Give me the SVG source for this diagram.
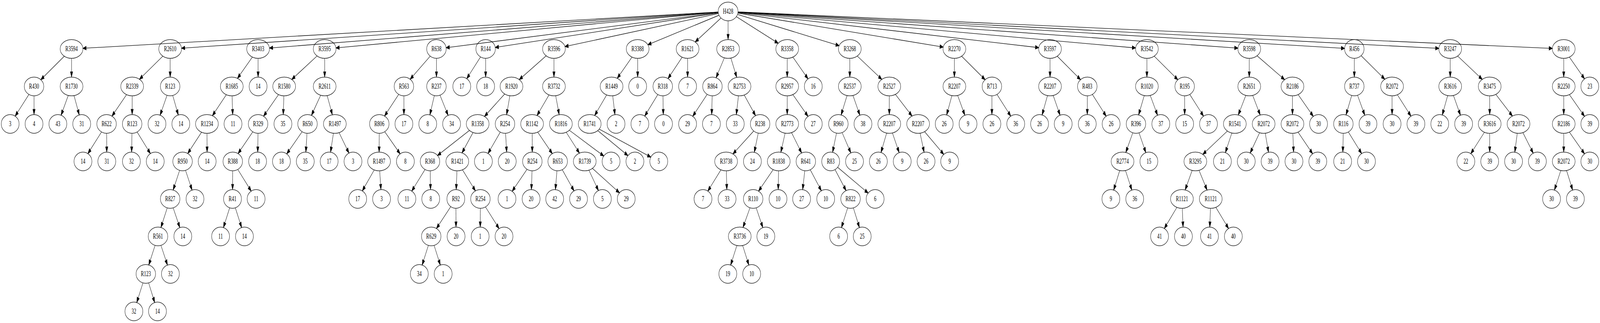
<svg xmlns="http://www.w3.org/2000/svg" width="6441" height="827" viewBox="0 0 6441 827" preserveAspectRatio="none" style="width:100vw;height:100vh;display:block">
<style>
.n ellipse{fill:none;stroke:#000;stroke-width:1.33}
.n text{font-family:"Liberation Serif","Times New Roman",serif;font-size:18.67px;text-anchor:middle;fill:#000}
.e path{fill:none;stroke:#000;stroke-width:1.33;marker-end:url(#ah)}
</style>
<defs>
<marker id="ah" viewBox="0 -6 16 12" refX="0" refY="0" markerWidth="16" markerHeight="12" markerUnits="userSpaceOnUse" orient="auto" overflow="visible">
<path d="M0,-4.67 L13.33,0 L0,4.67 Z" fill="#000" stroke="#000" stroke-width="1.33"/>
</marker>
</defs>
<rect width="6441" height="827" fill="#fff"/>
<g id="edges" class="e">
<path d="M2891.1,30.8 L347.1,123.2"/>
<path d="M2891.1,31.0 L744.0,122.8"/>
<path d="M2891.1,31.4 L1098.0,122.3"/>
<path d="M2891.2,31.7 L1365.9,121.9"/>
<path d="M2891.4,32.6 L1809.2,121.1"/>
<path d="M2891.5,33.2 L2007.0,120.2"/>
<path d="M2892.0,34.7 L2287.6,117.4"/>
<path d="M2894.4,39.0 L2620.9,111.1"/>
<path d="M2902.5,46.1 L2810.0,100.6"/>
<path d="M2931,53.3 L2931,88.0"/>
<path d="M2964.2,42.7 L3120.3,105.7"/>
<path d="M2969.0,36.8 L3365.0,114.4"/>
<path d="M2970.4,33.5 L3783.8,119.2"/>
<path d="M2970.7,32.3 L4168.3,121.0"/>
<path d="M2970.8,31.6 L4558.1,122.0"/>
<path d="M2970.9,31.2 L4970.0,122.6"/>
<path d="M2970.9,30.9 L5399.5,123.3"/>
<path d="M2970.9,30.7 L5778.9,123.4"/>
<path d="M2971.0,30.5 L6235.9,123.6"/>
<path d="M258.9,143.9 L175.5,196.9"/>
<path d="M288,149.3 L288,184.0"/>
<path d="M655.6,143.8 L572.7,195.8"/>
<path d="M685,149.3 L685,184.0"/>
<path d="M1016.1,146.1 L965.8,191.6"/>
<path d="M1039,149.3 L1039,184.0"/>
<path d="M1276.5,143.3 L1186.0,196.6"/>
<path d="M1307,149.3 L1307,184.0"/>
<path d="M1731.9,143.8 L1661.9,195.0"/>
<path d="M1757,149.3 L1757,184.0"/>
<path d="M1934.5,145.8 L1888.4,191.9"/>
<path d="M1955,149.3 L1955,184.0"/>
<path d="M2198.7,142.9 L2101.9,197.3"/>
<path d="M2230,149.3 L2230,184.0"/>
<path d="M2544.2,146.2 L2494.6,191.5"/>
<path d="M2567,149.3 L2567,184.0"/>
<path d="M2746.1,146.4 L2698.7,191.9"/>
<path d="M2768,149.3 L2768,184.0"/>
<path d="M2916.1,148.0 L2889.9,187.9"/>
<path d="M2942.2,148.6 L2960.1,186.0"/>
<path d="M3169,149.3 L3169,184.0"/>
<path d="M3191.8,146.2 L3243.0,192.9"/>
<path d="M3421,149.3 L3421,184.0"/>
<path d="M3451.0,143.5 L3538.5,196.3"/>
<path d="M3842,149.3 L3842,184.0"/>
<path d="M3871.1,143.9 L3954.5,196.9"/>
<path d="M4227,149.3 L4227,184.0"/>
<path d="M4256.0,143.9 L4338.7,196.8"/>
<path d="M4617,149.3 L4617,184.0"/>
<path d="M4646.3,143.8 L4730.4,197.0"/>
<path d="M5029,149.3 L5029,184.0"/>
<path d="M5060.6,142.8 L5159.8,197.5"/>
<path d="M5452,149.3 L5452,184.0"/>
<path d="M5479.4,142.6 L5563.5,195.7"/>
<path d="M5838,149.3 L5838,184.0"/>
<path d="M5868.0,143.5 L5955.6,196.3"/>
<path d="M6295,149.3 L6295,184.0"/>
<path d="M6317.8,146.2 L6369.0,192.9"/>
<path d="M116.5,241.8 L70.4,287.9"/>
<path d="M137,245.3 L137,280.0"/>
<path d="M274.8,244.3 L252.5,283.4"/>
<path d="M298.0,244.8 L313.9,282.0"/>
<path d="M509.5,242.3 L460.3,288.2"/>
<path d="M532,245.3 L532,280.0"/>
<path d="M672.4,244.1 L650.9,283.2"/>
<path d="M695.4,244.5 L712.3,282.2"/>
<path d="M911.1,242.4 L864.6,287.0"/>
<path d="M934.2,245.3 L936.1,280.1"/>
<path d="M1121.2,242.2 L1070.7,288.4"/>
<path d="M1142.8,245.3 L1140.9,280.1"/>
<path d="M1290.9,243.8 L1261.6,284.5"/>
<path d="M1317.0,244.8 L1332.8,281.6"/>
<path d="M1605.1,241.6 L1557.5,287.8"/>
<path d="M1626,245.3 L1626,280.0"/>
<path d="M1748.5,244.7 L1735.1,281.5"/>
<path d="M1771.2,243.7 L1796.8,284.0"/>
<path d="M2031.7,240.6 L1961.2,290.4"/>
<path d="M2052.6,245.1 L2042.9,280.8"/>
<path d="M2210.2,243.0 L2170.8,285.9"/>
<path d="M2236.9,245.1 L2247.4,280.8"/>
<path d="M2442.2,243.0 L2402.8,285.9"/>
<path d="M2466.5,245.2 L2473.1,280.4"/>
<path d="M2648.2,242.0 L2604.6,287.5"/>
<path d="M2668.8,245.3 L2669.8,280.0"/>
<path d="M2846.9,241.6 L2798.2,288.4"/>
<path d="M2867.0,245.3 L2865.6,280.0"/>
<path d="M2972.8,245.2 L2966.5,280.4"/>
<path d="M2995.9,243.2 L3032.9,286.0"/>
<path d="M3169,245.3 L3169,280.0"/>
<path d="M3191.8,242.2 L3243.0,288.9"/>
<path d="M3409.9,244.6 L3391.8,282.3"/>
<path d="M3433.7,244.4 L3455.1,283.2"/>
<path d="M3580,245.3 L3580,280.0"/>
<path d="M3604.5,241.6 L3661.2,288.5"/>
<path d="M3832.0,244.8 L3816.1,282.0"/>
<path d="M3855.2,244.3 L3877.5,283.4"/>
<path d="M3993,245.3 L3993,280.0"/>
<path d="M4013.5,241.8 L4059.6,287.9"/>
<path d="M4216.8,244.7 L4200.4,282.1"/>
<path d="M4239.7,244.4 L4261.1,283.2"/>
<path d="M4377,245.3 L4377,280.0"/>
<path d="M4397.5,241.8 L4443.6,287.9"/>
<path d="M4606.3,244.7 L4589.1,282.1"/>
<path d="M4630.4,244.3 L4653.2,283.5"/>
<path d="M4769,245.3 L4769,280.0"/>
<path d="M4789.5,241.8 L4835.6,287.9"/>
<path d="M5015.2,244.2 L4991.7,283.0"/>
<path d="M5042.8,244.2 L5066.3,283.0"/>
<path d="M5203,245.3 L5203,280.0"/>
<path d="M5225.8,242.2 L5277.0,288.9"/>
<path d="M5441.4,244.4 L5424.1,282.1"/>
<path d="M5465.0,244.0 L5487.5,283.4"/>
<path d="M5604,245.3 L5604,280.0"/>
<path d="M5625.3,242.6 L5670.6,287.9"/>
<path d="M5827.8,244.7 L5811.4,282.1"/>
<path d="M5851.0,244.4 L5872.8,283.3"/>
<path d="M5997,245.3 L5997,280.0"/>
<path d="M6021.5,241.6 L6078.2,288.5"/>
<path d="M6295,245.3 L6295,280.0"/>
<path d="M6317.8,242.2 L6369.0,288.9"/>
<path d="M408.7,337.9 L363.2,383.8"/>
<path d="M429.3,341.3 L429.6,376.0"/>
<path d="M531.3,341.3 L530.2,376.0"/>
<path d="M552.0,338.0 L596.2,383.6"/>
<path d="M811.4,338.5 L765.3,383.6"/>
<path d="M833.3,341.3 L833.6,376.0"/>
<path d="M1017.6,337.5 L968.1,384.1"/>
<path d="M1038.5,341.3 L1037.8,376.0"/>
<path d="M1216.2,337.3 L1164.1,384.9"/>
<path d="M1235.8,341.3 L1232.5,376.1"/>
<path d="M1342.3,341.1 L1333.8,376.7"/>
<path d="M1365.0,339.6 L1396.7,381.3"/>
<path d="M1526.8,341.3 L1526.4,376.0"/>
<path d="M1548.8,337.3 L1601.0,384.9"/>
<path d="M1889.8,333.9 L1773.3,392.2"/>
<path d="M1904.3,339.2 L1868.4,381.3"/>
<path d="M2014.0,338.3 L1973.6,382.9"/>
<path d="M2035.2,341.3 L2038.5,376.1"/>
<path d="M2142.3,341.3 L2142.6,376.0"/>
<path d="M2164.5,338.3 L2213.7,384.2"/>
<path d="M2279.3,338.6 L2323.3,382.6"/>
<path d="M2292.0,333.5 L2418.6,393.7"/>
<path d="M2406.3,334.4 L2516.0,392.2"/>
<path d="M2412.3,330.6 L2607.4,397.9"/>
<path d="M3034.2,335.4 L2961.4,386.5"/>
<path d="M3052.4,340.9 L3040.7,377.2"/>
<path d="M3160.6,340.9 L3147.8,377.2"/>
<path d="M3186.4,339.5 L3218.9,381.2"/>
<path d="M3367.4,340.9 L3355.7,377.2"/>
<path d="M3390.0,339.5 L3417.7,380.4"/>
<path d="M3569.3,340.7 L3552.1,378.3"/>
<path d="M3592.5,340.4 L3613.4,379.0"/>
<path d="M3703.9,341.0 L3716.0,377.3"/>
<path d="M3722.1,337.1 L3788.6,387.3"/>
<path d="M4560.2,340.0 L4538.5,378.7"/>
<path d="M4585.3,340.1 L4606.4,379.0"/>
<path d="M4941.0,335.5 L4853.5,388.3"/>
<path d="M4958.9,340.5 L4939.0,378.8"/>
<path d="M5070.7,339.8 L5040.6,381.0"/>
<path d="M5093.4,341.1 L5103.1,376.9"/>
<path d="M5204.5,341.3 L5206.7,376.0"/>
<path d="M5225.3,338.3 L5274.5,384.6"/>
<path d="M5407.3,341.3 L5406.2,376.0"/>
<path d="M5428.0,338.0 L5472.2,383.6"/>
<path d="M5975.7,338.6 L5930.4,383.9"/>
<path d="M5997,341.3 L5997,376.0"/>
<path d="M6108.0,341.2 L6100.7,376.5"/>
<path d="M6130.6,339.5 L6163.9,381.7"/>
<path d="M6295,341.3 L6295,376.0"/>
<path d="M6317.8,338.2 L6369.0,384.9"/>
<path d="M723.1,436.2 L703.1,474.6"/>
<path d="M746.9,436.2 L767.0,474.8"/>
<path d="M936.8,437.3 L936.4,472.0"/>
<path d="M957.2,433.9 L1002.0,479.7"/>
<path d="M1506.5,435.1 L1467.4,478.8"/>
<path d="M1528.5,437.3 L1532.1,472.1"/>
<path d="M1711.0,434.0 L1666.8,479.6"/>
<path d="M1731.8,437.3 L1732.8,472.0"/>
<path d="M1839.5,437.3 L1837.3,472.0"/>
<path d="M1861.7,434.7 L1904.7,479.1"/>
<path d="M2121.6,433.5 L2071.5,480.6"/>
<path d="M2141.8,437.3 L2139.9,472.1"/>
<path d="M2242.0,437.3 L2237.6,472.2"/>
<path d="M2263.5,434.5 L2302.1,478.6"/>
<path d="M2370.6,435.7 L2401.2,477.1"/>
<path d="M2384.9,431.1 L2482.2,487.0"/>
<path d="M2902.3,434.7 L2858.8,479.6"/>
<path d="M2924.0,437.3 L2925.4,472.0"/>
<path d="M3112.6,434.3 L3063.3,480.2"/>
<path d="M3134.3,437.3 L3133.2,472.0"/>
<path d="M3239.8,437.2 L3233.5,472.4"/>
<path d="M3261.8,434.7 L3298.0,478.1"/>
<path d="M3361.5,434.3 L3397.6,477.7"/>
<path d="M3372.1,428.4 L3483.2,488.0"/>
<path d="M4507.6,436.6 L4489.0,474.6"/>
<path d="M4530.8,436.5 L4550.3,474.7"/>
<path d="M4799.1,436.3 L4777.5,474.7"/>
<path d="M4826.7,436.1 L4852.1,475.4"/>
<path d="M6283.2,436.5 L6263.7,474.7"/>
<path d="M6306.4,436.6 L6325.0,474.6"/>
<path d="M673.3,532.2 L653.8,570.6"/>
<path d="M697.1,532.2 L717.7,570.9"/>
<path d="M924.6,532.1 L905.3,570.7"/>
<path d="M947.4,532.1 L966.7,570.7"/>
<path d="M1814.6,529.1 L1766.5,575.7"/>
<path d="M1835.3,533.3 L1835.6,568.0"/>
<path d="M1933.8,533.3 L1933.4,568.0"/>
<path d="M1954.3,529.9 L1999.8,575.8"/>
<path d="M3019.2,532.0 L2997.5,570.7"/>
<path d="M3044.1,532.2 L3064.7,570.9"/>
<path d="M3412.5,532.3 L3393.3,570.7"/>
<path d="M3435.3,532.3 L3454.0,570.6"/>
<path d="M4737.8,530.9 L4696.2,575.3"/>
<path d="M4759.5,533.3 L4761.7,568.0"/>
<path d="M4872.8,533.3 L4870.9,568.1"/>
<path d="M4894.4,530.8 L4936.6,575.4"/>
<path d="M624.3,628.2 L604.8,666.6"/>
<path d="M647.9,628.2 L668.0,666.8"/>
<path d="M1724.5,628.3 L1705.3,666.7"/>
<path d="M1747.5,628.3 L1766.7,666.7"/>
<path d="M2966.4,628.5 L2947.3,666.7"/>
<path d="M2989.6,628.5 L3008.7,666.7"/>
<path d="M575.5,724.3 L556.3,762.7"/>
<path d="M598.3,724.3 L617.0,762.6"/>
</g>
<g id="n-H428" class="n"><ellipse cx="2931" cy="29.33" rx="40" ry="24"/><text x="2931" y="34.93">H428</text></g>
<g id="n-R3594" class="n"><ellipse cx="288" cy="125.33" rx="45.87" ry="24"/><text x="288" y="130.93">R3594</text></g>
<g id="n-R2610" class="n"><ellipse cx="685" cy="125.33" rx="45.87" ry="24"/><text x="685" y="130.93">R2610</text></g>
<g id="n-R3403" class="n"><ellipse cx="1039" cy="125.33" rx="45.87" ry="24"/><text x="1039" y="130.93">R3403</text></g>
<g id="n-R3595" class="n"><ellipse cx="1307" cy="125.33" rx="45.87" ry="24"/><text x="1307" y="130.93">R3595</text></g>
<g id="n-R638" class="n"><ellipse cx="1757" cy="125.33" rx="39.27" ry="24"/><text x="1757" y="130.93">R638</text></g>
<g id="n-R144" class="n"><ellipse cx="1955" cy="125.33" rx="39.27" ry="24"/><text x="1955" y="130.93">R144</text></g>
<g id="n-R3596" class="n"><ellipse cx="2230" cy="125.33" rx="45.87" ry="24"/><text x="2230" y="130.93">R3596</text></g>
<g id="n-R3388" class="n"><ellipse cx="2567" cy="125.33" rx="45.87" ry="24"/><text x="2567" y="130.93">R3388</text></g>
<g id="n-R1621" class="n"><ellipse cx="2768" cy="125.33" rx="45.87" ry="24"/><text x="2768" y="130.93">R1621</text></g>
<g id="n-R2853" class="n"><ellipse cx="2931" cy="125.33" rx="45.87" ry="24"/><text x="2931" y="130.93">R2853</text></g>
<g id="n-R3358" class="n"><ellipse cx="3169" cy="125.33" rx="45.87" ry="24"/><text x="3169" y="130.93">R3358</text></g>
<g id="n-R3268" class="n"><ellipse cx="3421" cy="125.33" rx="45.87" ry="24"/><text x="3421" y="130.93">R3268</text></g>
<g id="n-R2270" class="n"><ellipse cx="3842" cy="125.33" rx="45.87" ry="24"/><text x="3842" y="130.93">R2270</text></g>
<g id="n-R3597" class="n"><ellipse cx="4227" cy="125.33" rx="45.87" ry="24"/><text x="4227" y="130.93">R3597</text></g>
<g id="n-R3542" class="n"><ellipse cx="4617" cy="125.33" rx="45.87" ry="24"/><text x="4617" y="130.93">R3542</text></g>
<g id="n-R3598" class="n"><ellipse cx="5029" cy="125.33" rx="45.87" ry="24"/><text x="5029" y="130.93">R3598</text></g>
<g id="n-R456" class="n"><ellipse cx="5452" cy="125.33" rx="39.27" ry="24"/><text x="5452" y="130.93">R456</text></g>
<g id="n-R3247" class="n"><ellipse cx="5838" cy="125.33" rx="45.87" ry="24"/><text x="5838" y="130.93">R3247</text></g>
<g id="n-R3001" class="n"><ellipse cx="6295" cy="125.33" rx="45.87" ry="24"/><text x="6295" y="130.93">R3001</text></g>
<g id="n-R430" class="n"><ellipse cx="137" cy="221.33" rx="39.27" ry="24"/><text x="137" y="226.93">R430</text></g>
<g id="n-R1730" class="n"><ellipse cx="288" cy="221.33" rx="45.87" ry="24"/><text x="288" y="226.93">R1730</text></g>
<g id="n-R2339" class="n"><ellipse cx="532" cy="221.33" rx="45.87" ry="24"/><text x="532" y="226.93">R2339</text></g>
<g id="n-R123-a" class="n"><ellipse cx="685" cy="221.33" rx="39.27" ry="24"/><text x="685" y="226.93">R123</text></g>
<g id="n-R1685" class="n"><ellipse cx="933" cy="221.33" rx="45.87" ry="24"/><text x="933" y="226.93">R1685</text></g>
<g id="n-14-a" class="n"><ellipse cx="1039" cy="221.33" rx="36" ry="24"/><text x="1039" y="226.93">14</text></g>
<g id="n-R1580" class="n"><ellipse cx="1144" cy="221.33" rx="45.87" ry="24"/><text x="1144" y="226.93">R1580</text></g>
<g id="n-R2611" class="n"><ellipse cx="1307" cy="221.33" rx="45.87" ry="24"/><text x="1307" y="226.93">R2611</text></g>
<g id="n-R563" class="n"><ellipse cx="1626" cy="221.33" rx="39.27" ry="24"/><text x="1626" y="226.93">R563</text></g>
<g id="n-R237" class="n"><ellipse cx="1757" cy="221.33" rx="39.27" ry="24"/><text x="1757" y="226.93">R237</text></g>
<g id="n-17-a" class="n"><ellipse cx="1859" cy="221.33" rx="36" ry="24"/><text x="1859" y="226.93">17</text></g>
<g id="n-18-a" class="n"><ellipse cx="1955" cy="221.33" rx="36" ry="24"/><text x="1955" y="226.93">18</text></g>
<g id="n-R1920" class="n"><ellipse cx="2059" cy="221.33" rx="45.87" ry="24"/><text x="2059" y="226.93">R1920</text></g>
<g id="n-R3732" class="n"><ellipse cx="2230" cy="221.33" rx="45.87" ry="24"/><text x="2230" y="226.93">R3732</text></g>
<g id="n-R1449" class="n"><ellipse cx="2462" cy="221.33" rx="45.87" ry="24"/><text x="2462" y="226.93">R1449</text></g>
<g id="n-0-a" class="n"><ellipse cx="2567" cy="221.33" rx="36" ry="24"/><text x="2567" y="226.93">0</text></g>
<g id="n-R318" class="n"><ellipse cx="2668" cy="221.33" rx="39.27" ry="24"/><text x="2668" y="226.93">R318</text></g>
<g id="n-7-a" class="n"><ellipse cx="2768" cy="221.33" rx="36" ry="24"/><text x="2768" y="226.93">7</text></g>
<g id="n-R864" class="n"><ellipse cx="2868" cy="221.33" rx="39.27" ry="24"/><text x="2868" y="226.93">R864</text></g>
<g id="n-R2753" class="n"><ellipse cx="2977" cy="221.33" rx="45.87" ry="24"/><text x="2977" y="226.93">R2753</text></g>
<g id="n-R2957" class="n"><ellipse cx="3169" cy="221.33" rx="45.87" ry="24"/><text x="3169" y="226.93">R2957</text></g>
<g id="n-16" class="n"><ellipse cx="3274" cy="221.33" rx="36" ry="24"/><text x="3274" y="226.93">16</text></g>
<g id="n-R2537" class="n"><ellipse cx="3421" cy="221.33" rx="45.87" ry="24"/><text x="3421" y="226.93">R2537</text></g>
<g id="n-R2527" class="n"><ellipse cx="3580" cy="221.33" rx="45.87" ry="24"/><text x="3580" y="226.93">R2527</text></g>
<g id="n-R2207-a" class="n"><ellipse cx="3842" cy="221.33" rx="45.87" ry="24"/><text x="3842" y="226.93">R2207</text></g>
<g id="n-R713" class="n"><ellipse cx="3993" cy="221.33" rx="39.27" ry="24"/><text x="3993" y="226.93">R713</text></g>
<g id="n-R2207-b" class="n"><ellipse cx="4227" cy="221.33" rx="45.87" ry="24"/><text x="4227" y="226.93">R2207</text></g>
<g id="n-R483" class="n"><ellipse cx="4377" cy="221.33" rx="39.27" ry="24"/><text x="4377" y="226.93">R483</text></g>
<g id="n-R1020" class="n"><ellipse cx="4617" cy="221.33" rx="45.87" ry="24"/><text x="4617" y="226.93">R1020</text></g>
<g id="n-R195" class="n"><ellipse cx="4769" cy="221.33" rx="39.27" ry="24"/><text x="4769" y="226.93">R195</text></g>
<g id="n-R2651" class="n"><ellipse cx="5029" cy="221.33" rx="45.87" ry="24"/><text x="5029" y="226.93">R2651</text></g>
<g id="n-R2186-a" class="n"><ellipse cx="5203" cy="221.33" rx="45.87" ry="24"/><text x="5203" y="226.93">R2186</text></g>
<g id="n-R737" class="n"><ellipse cx="5452" cy="221.33" rx="39.27" ry="24"/><text x="5452" y="226.93">R737</text></g>
<g id="n-R2072-a" class="n"><ellipse cx="5604" cy="221.33" rx="45.87" ry="24"/><text x="5604" y="226.93">R2072</text></g>
<g id="n-R3616-a" class="n"><ellipse cx="5838" cy="221.33" rx="45.87" ry="24"/><text x="5838" y="226.93">R3616</text></g>
<g id="n-R3475" class="n"><ellipse cx="5997" cy="221.33" rx="45.87" ry="24"/><text x="5997" y="226.93">R3475</text></g>
<g id="n-R2250" class="n"><ellipse cx="6295" cy="221.33" rx="45.87" ry="24"/><text x="6295" y="226.93">R2250</text></g>
<g id="n-23" class="n"><ellipse cx="6400" cy="221.33" rx="36" ry="24"/><text x="6400" y="226.93">23</text></g>
<g id="n-3-a" class="n"><ellipse cx="41" cy="317.33" rx="36" ry="24"/><text x="41" y="322.93">3</text></g>
<g id="n-4" class="n"><ellipse cx="137" cy="317.33" rx="36" ry="24"/><text x="137" y="322.93">4</text></g>
<g id="n-43" class="n"><ellipse cx="233" cy="317.33" rx="36" ry="24"/><text x="233" y="322.93">43</text></g>
<g id="n-31-a" class="n"><ellipse cx="329" cy="317.33" rx="36" ry="24"/><text x="329" y="322.93">31</text></g>
<g id="n-R622" class="n"><ellipse cx="429" cy="317.33" rx="39.27" ry="24"/><text x="429" y="322.93">R622</text></g>
<g id="n-R123-b" class="n"><ellipse cx="532" cy="317.33" rx="39.27" ry="24"/><text x="532" y="322.93">R123</text></g>
<g id="n-32-a" class="n"><ellipse cx="632" cy="317.33" rx="36" ry="24"/><text x="632" y="322.93">32</text></g>
<g id="n-14-b" class="n"><ellipse cx="728" cy="317.33" rx="36" ry="24"/><text x="728" y="322.93">14</text></g>
<g id="n-R1234" class="n"><ellipse cx="833" cy="317.33" rx="45.87" ry="24"/><text x="833" y="322.93">R1234</text></g>
<g id="n-11-a" class="n"><ellipse cx="938" cy="317.33" rx="36" ry="24"/><text x="938" y="322.93">11</text></g>
<g id="n-R329" class="n"><ellipse cx="1039" cy="317.33" rx="39.27" ry="24"/><text x="1039" y="322.93">R329</text></g>
<g id="n-35-a" class="n"><ellipse cx="1139" cy="317.33" rx="36" ry="24"/><text x="1139" y="322.93">35</text></g>
<g id="n-R650" class="n"><ellipse cx="1238" cy="317.33" rx="39.27" ry="24"/><text x="1238" y="322.93">R650</text></g>
<g id="n-R1497-a" class="n"><ellipse cx="1348" cy="317.33" rx="45.87" ry="24"/><text x="1348" y="322.93">R1497</text></g>
<g id="n-R806" class="n"><ellipse cx="1527" cy="317.33" rx="39.27" ry="24"/><text x="1527" y="322.93">R806</text></g>
<g id="n-17-b" class="n"><ellipse cx="1626" cy="317.33" rx="36" ry="24"/><text x="1626" y="322.93">17</text></g>
<g id="n-8-a" class="n"><ellipse cx="1722" cy="317.33" rx="36" ry="24"/><text x="1722" y="322.93">8</text></g>
<g id="n-34-a" class="n"><ellipse cx="1818" cy="317.33" rx="36" ry="24"/><text x="1818" y="322.93">34</text></g>
<g id="n-R1358" class="n"><ellipse cx="1923" cy="317.33" rx="45.87" ry="24"/><text x="1923" y="322.93">R1358</text></g>
<g id="n-R254-a" class="n"><ellipse cx="2033" cy="317.33" rx="39.27" ry="24"/><text x="2033" y="322.93">R254</text></g>
<g id="n-R1142" class="n"><ellipse cx="2142" cy="317.33" rx="45.87" ry="24"/><text x="2142" y="322.93">R1142</text></g>
<g id="n-R1816" class="n"><ellipse cx="2258" cy="317.33" rx="45.87" ry="24"/><text x="2258" y="322.93">R1816</text></g>
<g id="n-R1741" class="n"><ellipse cx="2374" cy="317.33" rx="45.87" ry="24"/><text x="2374" y="322.93">R1741</text></g>
<g id="n-2-a" class="n"><ellipse cx="2480" cy="317.33" rx="36" ry="24"/><text x="2480" y="322.93">2</text></g>
<g id="n-7-b" class="n"><ellipse cx="2576" cy="317.33" rx="36" ry="24"/><text x="2576" y="322.93">7</text></g>
<g id="n-0-b" class="n"><ellipse cx="2671" cy="317.33" rx="36" ry="24"/><text x="2671" y="322.93">0</text></g>
<g id="n-29-a" class="n"><ellipse cx="2768" cy="317.33" rx="36" ry="24"/><text x="2768" y="322.93">29</text></g>
<g id="n-7-c" class="n"><ellipse cx="2864" cy="317.33" rx="36" ry="24"/><text x="2864" y="322.93">7</text></g>
<g id="n-33-a" class="n"><ellipse cx="2960" cy="317.33" rx="36" ry="24"/><text x="2960" y="322.93">33</text></g>
<g id="n-R238" class="n"><ellipse cx="3060" cy="317.33" rx="39.27" ry="24"/><text x="3060" y="322.93">R238</text></g>
<g id="n-R2773" class="n"><ellipse cx="3169" cy="317.33" rx="45.87" ry="24"/><text x="3169" y="322.93">R2773</text></g>
<g id="n-27-a" class="n"><ellipse cx="3274" cy="317.33" rx="36" ry="24"/><text x="3274" y="322.93">27</text></g>
<g id="n-R960" class="n"><ellipse cx="3375" cy="317.33" rx="39.27" ry="24"/><text x="3375" y="322.93">R960</text></g>
<g id="n-38" class="n"><ellipse cx="3474" cy="317.33" rx="36" ry="24"/><text x="3474" y="322.93">38</text></g>
<g id="n-R2207-c" class="n"><ellipse cx="3580" cy="317.33" rx="45.87" ry="24"/><text x="3580" y="322.93">R2207</text></g>
<g id="n-R2207-d" class="n"><ellipse cx="3696" cy="317.33" rx="45.87" ry="24"/><text x="3696" y="322.93">R2207</text></g>
<g id="n-26-a" class="n"><ellipse cx="3801" cy="317.33" rx="36" ry="24"/><text x="3801" y="322.93">26</text></g>
<g id="n-9-a" class="n"><ellipse cx="3897" cy="317.33" rx="36" ry="24"/><text x="3897" y="322.93">9</text></g>
<g id="n-26-b" class="n"><ellipse cx="3993" cy="317.33" rx="36" ry="24"/><text x="3993" y="322.93">26</text></g>
<g id="n-36-a" class="n"><ellipse cx="4089" cy="317.33" rx="36" ry="24"/><text x="4089" y="322.93">36</text></g>
<g id="n-26-c" class="n"><ellipse cx="4185" cy="317.33" rx="36" ry="24"/><text x="4185" y="322.93">26</text></g>
<g id="n-9-b" class="n"><ellipse cx="4280" cy="317.33" rx="36" ry="24"/><text x="4280" y="322.93">9</text></g>
<g id="n-36-b" class="n"><ellipse cx="4377" cy="317.33" rx="36" ry="24"/><text x="4377" y="322.93">36</text></g>
<g id="n-26-d" class="n"><ellipse cx="4473" cy="317.33" rx="36" ry="24"/><text x="4473" y="322.93">26</text></g>
<g id="n-R396" class="n"><ellipse cx="4573" cy="317.33" rx="39.27" ry="24"/><text x="4573" y="322.93">R396</text></g>
<g id="n-37-a" class="n"><ellipse cx="4673" cy="317.33" rx="36" ry="24"/><text x="4673" y="322.93">37</text></g>
<g id="n-15-a" class="n"><ellipse cx="4769" cy="317.33" rx="36" ry="24"/><text x="4769" y="322.93">15</text></g>
<g id="n-37-b" class="n"><ellipse cx="4865" cy="317.33" rx="36" ry="24"/><text x="4865" y="322.93">37</text></g>
<g id="n-R1541" class="n"><ellipse cx="4971" cy="317.33" rx="45.87" ry="24"/><text x="4971" y="322.93">R1541</text></g>
<g id="n-R2072-b" class="n"><ellipse cx="5087" cy="317.33" rx="45.87" ry="24"/><text x="5087" y="322.93">R2072</text></g>
<g id="n-R2072-c" class="n"><ellipse cx="5203" cy="317.33" rx="45.87" ry="24"/><text x="5203" y="322.93">R2072</text></g>
<g id="n-30-a" class="n"><ellipse cx="5308" cy="317.33" rx="36" ry="24"/><text x="5308" y="322.93">30</text></g>
<g id="n-R116" class="n"><ellipse cx="5408" cy="317.33" rx="39.27" ry="24"/><text x="5408" y="322.93">R116</text></g>
<g id="n-39-a" class="n"><ellipse cx="5507" cy="317.33" rx="36" ry="24"/><text x="5507" y="322.93">39</text></g>
<g id="n-30-b" class="n"><ellipse cx="5604" cy="317.33" rx="36" ry="24"/><text x="5604" y="322.93">30</text></g>
<g id="n-39-b" class="n"><ellipse cx="5700" cy="317.33" rx="36" ry="24"/><text x="5700" y="322.93">39</text></g>
<g id="n-22-a" class="n"><ellipse cx="5796" cy="317.33" rx="36" ry="24"/><text x="5796" y="322.93">22</text></g>
<g id="n-39-c" class="n"><ellipse cx="5892" cy="317.33" rx="36" ry="24"/><text x="5892" y="322.93">39</text></g>
<g id="n-R3616-b" class="n"><ellipse cx="5997" cy="317.33" rx="45.87" ry="24"/><text x="5997" y="322.93">R3616</text></g>
<g id="n-R2072-d" class="n"><ellipse cx="6113" cy="317.33" rx="45.87" ry="24"/><text x="6113" y="322.93">R2072</text></g>
<g id="n-R2186-b" class="n"><ellipse cx="6295" cy="317.33" rx="45.87" ry="24"/><text x="6295" y="322.93">R2186</text></g>
<g id="n-39-d" class="n"><ellipse cx="6400" cy="317.33" rx="36" ry="24"/><text x="6400" y="322.93">39</text></g>
<g id="n-14-c" class="n"><ellipse cx="334" cy="413.33" rx="36" ry="24"/><text x="334" y="418.93">14</text></g>
<g id="n-31-b" class="n"><ellipse cx="430" cy="413.33" rx="36" ry="24"/><text x="430" y="418.93">31</text></g>
<g id="n-32-b" class="n"><ellipse cx="529" cy="413.33" rx="36" ry="24"/><text x="529" y="418.93">32</text></g>
<g id="n-14-d" class="n"><ellipse cx="625" cy="413.33" rx="36" ry="24"/><text x="625" y="418.93">14</text></g>
<g id="n-R950" class="n"><ellipse cx="735" cy="413.33" rx="39.27" ry="24"/><text x="735" y="418.93">R950</text></g>
<g id="n-14-e" class="n"><ellipse cx="834" cy="413.33" rx="36" ry="24"/><text x="834" y="418.93">14</text></g>
<g id="n-R388" class="n"><ellipse cx="937" cy="413.33" rx="39.27" ry="24"/><text x="937" y="418.93">R388</text></g>
<g id="n-18-b" class="n"><ellipse cx="1037" cy="413.33" rx="36" ry="24"/><text x="1037" y="418.93">18</text></g>
<g id="n-18-c" class="n"><ellipse cx="1133" cy="413.33" rx="36" ry="24"/><text x="1133" y="418.93">18</text></g>
<g id="n-35-b" class="n"><ellipse cx="1229" cy="413.33" rx="36" ry="24"/><text x="1229" y="418.93">35</text></g>
<g id="n-17-c" class="n"><ellipse cx="1325" cy="413.33" rx="36" ry="24"/><text x="1325" y="418.93">17</text></g>
<g id="n-3-b" class="n"><ellipse cx="1421" cy="413.33" rx="36" ry="24"/><text x="1421" y="418.93">3</text></g>
<g id="n-R1497-b" class="n"><ellipse cx="1526" cy="413.33" rx="45.87" ry="24"/><text x="1526" y="418.93">R1497</text></g>
<g id="n-8-b" class="n"><ellipse cx="1632" cy="413.33" rx="36" ry="24"/><text x="1632" y="418.93">8</text></g>
<g id="n-R368" class="n"><ellipse cx="1731" cy="413.33" rx="39.27" ry="24"/><text x="1731" y="418.93">R368</text></g>
<g id="n-R1421" class="n"><ellipse cx="1841" cy="413.33" rx="45.87" ry="24"/><text x="1841" y="418.93">R1421</text></g>
<g id="n-1-a" class="n"><ellipse cx="1946" cy="413.33" rx="36" ry="24"/><text x="1946" y="418.93">1</text></g>
<g id="n-20-a" class="n"><ellipse cx="2042" cy="413.33" rx="36" ry="24"/><text x="2042" y="418.93">20</text></g>
<g id="n-R254-b" class="n"><ellipse cx="2143" cy="413.33" rx="39.27" ry="24"/><text x="2143" y="418.93">R254</text></g>
<g id="n-R653" class="n"><ellipse cx="2245" cy="413.33" rx="39.27" ry="24"/><text x="2245" y="418.93">R653</text></g>
<g id="n-R1739" class="n"><ellipse cx="2354" cy="413.33" rx="45.87" ry="24"/><text x="2354" y="418.93">R1739</text></g>
<g id="n-5-a" class="n"><ellipse cx="2460" cy="413.33" rx="36" ry="24"/><text x="2460" y="418.93">5</text></g>
<g id="n-2-b" class="n"><ellipse cx="2556" cy="413.33" rx="36" ry="24"/><text x="2556" y="418.93">2</text></g>
<g id="n-5-b" class="n"><ellipse cx="2652" cy="413.33" rx="36" ry="24"/><text x="2652" y="418.93">5</text></g>
<g id="n-R3738" class="n"><ellipse cx="2923" cy="413.33" rx="45.87" ry="24"/><text x="2923" y="418.93">R3738</text></g>
<g id="n-24" class="n"><ellipse cx="3029" cy="413.33" rx="36" ry="24"/><text x="3029" y="418.93">24</text></g>
<g id="n-R1838" class="n"><ellipse cx="3135" cy="413.33" rx="45.87" ry="24"/><text x="3135" y="418.93">R1838</text></g>
<g id="n-R641" class="n"><ellipse cx="3244" cy="413.33" rx="39.27" ry="24"/><text x="3244" y="418.93">R641</text></g>
<g id="n-R83" class="n"><ellipse cx="3344" cy="413.33" rx="36" ry="24"/><text x="3344" y="418.93">R83</text></g>
<g id="n-25-a" class="n"><ellipse cx="3440" cy="413.33" rx="36" ry="24"/><text x="3440" y="418.93">25</text></g>
<g id="n-26-e" class="n"><ellipse cx="3536" cy="413.33" rx="36" ry="24"/><text x="3536" y="418.93">26</text></g>
<g id="n-9-c" class="n"><ellipse cx="3632" cy="413.33" rx="36" ry="24"/><text x="3632" y="418.93">9</text></g>
<g id="n-26-f" class="n"><ellipse cx="3728" cy="413.33" rx="36" ry="24"/><text x="3728" y="418.93">26</text></g>
<g id="n-9-d" class="n"><ellipse cx="3823" cy="413.33" rx="36" ry="24"/><text x="3823" y="418.93">9</text></g>
<g id="n-R2774" class="n"><ellipse cx="4519" cy="413.33" rx="45.87" ry="24"/><text x="4519" y="418.93">R2774</text></g>
<g id="n-15-b" class="n"><ellipse cx="4625" cy="413.33" rx="36" ry="24"/><text x="4625" y="418.93">15</text></g>
<g id="n-R3295" class="n"><ellipse cx="4812" cy="413.33" rx="45.87" ry="24"/><text x="4812" y="418.93">R3295</text></g>
<g id="n-21-a" class="n"><ellipse cx="4921" cy="413.33" rx="36" ry="24"/><text x="4921" y="418.93">21</text></g>
<g id="n-30-c" class="n"><ellipse cx="5017" cy="413.33" rx="36" ry="24"/><text x="5017" y="418.93">30</text></g>
<g id="n-39-e" class="n"><ellipse cx="5113" cy="413.33" rx="36" ry="24"/><text x="5113" y="418.93">39</text></g>
<g id="n-30-d" class="n"><ellipse cx="5209" cy="413.33" rx="36" ry="24"/><text x="5209" y="418.93">30</text></g>
<g id="n-39-f" class="n"><ellipse cx="5305" cy="413.33" rx="36" ry="24"/><text x="5305" y="418.93">39</text></g>
<g id="n-21-b" class="n"><ellipse cx="5405" cy="413.33" rx="36" ry="24"/><text x="5405" y="418.93">21</text></g>
<g id="n-30-e" class="n"><ellipse cx="5501" cy="413.33" rx="36" ry="24"/><text x="5501" y="418.93">30</text></g>
<g id="n-22-b" class="n"><ellipse cx="5901" cy="413.33" rx="36" ry="24"/><text x="5901" y="418.93">22</text></g>
<g id="n-39-g" class="n"><ellipse cx="5997" cy="413.33" rx="36" ry="24"/><text x="5997" y="418.93">39</text></g>
<g id="n-30-f" class="n"><ellipse cx="6093" cy="413.33" rx="36" ry="24"/><text x="6093" y="418.93">30</text></g>
<g id="n-39-h" class="n"><ellipse cx="6189" cy="413.33" rx="36" ry="24"/><text x="6189" y="418.93">39</text></g>
<g id="n-R2072-e" class="n"><ellipse cx="6295" cy="413.33" rx="45.87" ry="24"/><text x="6295" y="418.93">R2072</text></g>
<g id="n-30-g" class="n"><ellipse cx="6400" cy="413.33" rx="36" ry="24"/><text x="6400" y="418.93">30</text></g>
<g id="n-R827" class="n"><ellipse cx="685" cy="509.33" rx="39.27" ry="24"/><text x="685" y="514.93">R827</text></g>
<g id="n-32-c" class="n"><ellipse cx="785" cy="509.33" rx="36" ry="24"/><text x="785" y="514.93">32</text></g>
<g id="n-R41" class="n"><ellipse cx="936" cy="509.33" rx="36" ry="24"/><text x="936" y="514.93">R41</text></g>
<g id="n-11-b" class="n"><ellipse cx="1031" cy="509.33" rx="36" ry="24"/><text x="1031" y="514.93">11</text></g>
<g id="n-17-d" class="n"><ellipse cx="1440" cy="509.33" rx="36" ry="24"/><text x="1440" y="514.93">17</text></g>
<g id="n-3-c" class="n"><ellipse cx="1536" cy="509.33" rx="36" ry="24"/><text x="1536" y="514.93">3</text></g>
<g id="n-11-c" class="n"><ellipse cx="1638" cy="509.33" rx="36" ry="24"/><text x="1638" y="514.93">11</text></g>
<g id="n-8-c" class="n"><ellipse cx="1734" cy="509.33" rx="36" ry="24"/><text x="1734" y="514.93">8</text></g>
<g id="n-R92" class="n"><ellipse cx="1835" cy="509.33" rx="36" ry="24"/><text x="1835" y="514.93">R92</text></g>
<g id="n-R254-c" class="n"><ellipse cx="1934" cy="509.33" rx="39.27" ry="24"/><text x="1934" y="514.93">R254</text></g>
<g id="n-1-b" class="n"><ellipse cx="2041" cy="509.33" rx="36" ry="24"/><text x="2041" y="514.93">1</text></g>
<g id="n-20-b" class="n"><ellipse cx="2138" cy="509.33" rx="36" ry="24"/><text x="2138" y="514.93">20</text></g>
<g id="n-42" class="n"><ellipse cx="2233" cy="509.33" rx="36" ry="24"/><text x="2233" y="514.93">42</text></g>
<g id="n-29-b" class="n"><ellipse cx="2329" cy="509.33" rx="36" ry="24"/><text x="2329" y="514.93">29</text></g>
<g id="n-5-c" class="n"><ellipse cx="2425" cy="509.33" rx="36" ry="24"/><text x="2425" y="514.93">5</text></g>
<g id="n-29-c" class="n"><ellipse cx="2521" cy="509.33" rx="36" ry="24"/><text x="2521" y="514.93">29</text></g>
<g id="n-7-d" class="n"><ellipse cx="2830" cy="509.33" rx="36" ry="24"/><text x="2830" y="514.93">7</text></g>
<g id="n-33-b" class="n"><ellipse cx="2927" cy="509.33" rx="36" ry="24"/><text x="2927" y="514.93">33</text></g>
<g id="n-R110" class="n"><ellipse cx="3032" cy="509.33" rx="39.27" ry="24"/><text x="3032" y="514.93">R110</text></g>
<g id="n-10-a" class="n"><ellipse cx="3132" cy="509.33" rx="36" ry="24"/><text x="3132" y="514.93">10</text></g>
<g id="n-27-b" class="n"><ellipse cx="3227" cy="509.33" rx="36" ry="24"/><text x="3227" y="514.93">27</text></g>
<g id="n-10-b" class="n"><ellipse cx="3324" cy="509.33" rx="36" ry="24"/><text x="3324" y="514.93">10</text></g>
<g id="n-R822" class="n"><ellipse cx="3424" cy="509.33" rx="39.27" ry="24"/><text x="3424" y="514.93">R822</text></g>
<g id="n-6-a" class="n"><ellipse cx="3523" cy="509.33" rx="36" ry="24"/><text x="3523" y="514.93">6</text></g>
<g id="n-9-e" class="n"><ellipse cx="4472" cy="509.33" rx="36" ry="24"/><text x="4472" y="514.93">9</text></g>
<g id="n-36-c" class="n"><ellipse cx="4568" cy="509.33" rx="36" ry="24"/><text x="4568" y="514.93">36</text></g>
<g id="n-R1121-a" class="n"><ellipse cx="4758" cy="509.33" rx="45.87" ry="24"/><text x="4758" y="514.93">R1121</text></g>
<g id="n-R1121-b" class="n"><ellipse cx="4874" cy="509.33" rx="45.87" ry="24"/><text x="4874" y="514.93">R1121</text></g>
<g id="n-30-h" class="n"><ellipse cx="6246" cy="509.33" rx="36" ry="24"/><text x="6246" y="514.93">30</text></g>
<g id="n-39-i" class="n"><ellipse cx="6342" cy="509.33" rx="36" ry="24"/><text x="6342" y="514.93">39</text></g>
<g id="n-R561" class="n"><ellipse cx="636" cy="605.33" rx="39.27" ry="24"/><text x="636" y="610.93">R561</text></g>
<g id="n-14-f" class="n"><ellipse cx="736" cy="605.33" rx="36" ry="24"/><text x="736" y="610.93">14</text></g>
<g id="n-11-d" class="n"><ellipse cx="888" cy="605.33" rx="36" ry="24"/><text x="888" y="610.93">11</text></g>
<g id="n-14-g" class="n"><ellipse cx="984" cy="605.33" rx="36" ry="24"/><text x="984" y="610.93">14</text></g>
<g id="n-R629" class="n"><ellipse cx="1736" cy="605.33" rx="39.27" ry="24"/><text x="1736" y="610.93">R629</text></g>
<g id="n-20-c" class="n"><ellipse cx="1836" cy="605.33" rx="36" ry="24"/><text x="1836" y="610.93">20</text></g>
<g id="n-1-c" class="n"><ellipse cx="1933" cy="605.33" rx="36" ry="24"/><text x="1933" y="610.93">1</text></g>
<g id="n-20-d" class="n"><ellipse cx="2029" cy="605.33" rx="36" ry="24"/><text x="2029" y="610.93">20</text></g>
<g id="n-R3736" class="n"><ellipse cx="2978" cy="605.33" rx="45.87" ry="24"/><text x="2978" y="610.93">R3736</text></g>
<g id="n-19-a" class="n"><ellipse cx="3083" cy="605.33" rx="36" ry="24"/><text x="3083" y="610.93">19</text></g>
<g id="n-6-b" class="n"><ellipse cx="3376" cy="605.33" rx="36" ry="24"/><text x="3376" y="610.93">6</text></g>
<g id="n-25-b" class="n"><ellipse cx="3471" cy="605.33" rx="36" ry="24"/><text x="3471" y="610.93">25</text></g>
<g id="n-41-a" class="n"><ellipse cx="4668" cy="605.33" rx="36" ry="24"/><text x="4668" y="610.93">41</text></g>
<g id="n-40-a" class="n"><ellipse cx="4764" cy="605.33" rx="36" ry="24"/><text x="4764" y="610.93">40</text></g>
<g id="n-41-b" class="n"><ellipse cx="4869" cy="605.33" rx="36" ry="24"/><text x="4869" y="610.93">41</text></g>
<g id="n-40-b" class="n"><ellipse cx="4965" cy="605.33" rx="36" ry="24"/><text x="4965" y="610.93">40</text></g>
<g id="n-R123-c" class="n"><ellipse cx="587" cy="701.33" rx="39.27" ry="24"/><text x="587" y="706.93">R123</text></g>
<g id="n-32-d" class="n"><ellipse cx="686" cy="701.33" rx="36" ry="24"/><text x="686" y="706.93">32</text></g>
<g id="n-34-b" class="n"><ellipse cx="1688" cy="701.33" rx="36" ry="24"/><text x="1688" y="706.93">34</text></g>
<g id="n-1-d" class="n"><ellipse cx="1784" cy="701.33" rx="36" ry="24"/><text x="1784" y="706.93">1</text></g>
<g id="n-19-b" class="n"><ellipse cx="2930" cy="701.33" rx="36" ry="24"/><text x="2930" y="706.93">19</text></g>
<g id="n-10-c" class="n"><ellipse cx="3026" cy="701.33" rx="36" ry="24"/><text x="3026" y="706.93">10</text></g>
<g id="n-32-e" class="n"><ellipse cx="539" cy="797.33" rx="36" ry="24"/><text x="539" y="802.93">32</text></g>
<g id="n-14-h" class="n"><ellipse cx="634" cy="797.33" rx="36" ry="24"/><text x="634" y="802.93">14</text></g>
</svg>
